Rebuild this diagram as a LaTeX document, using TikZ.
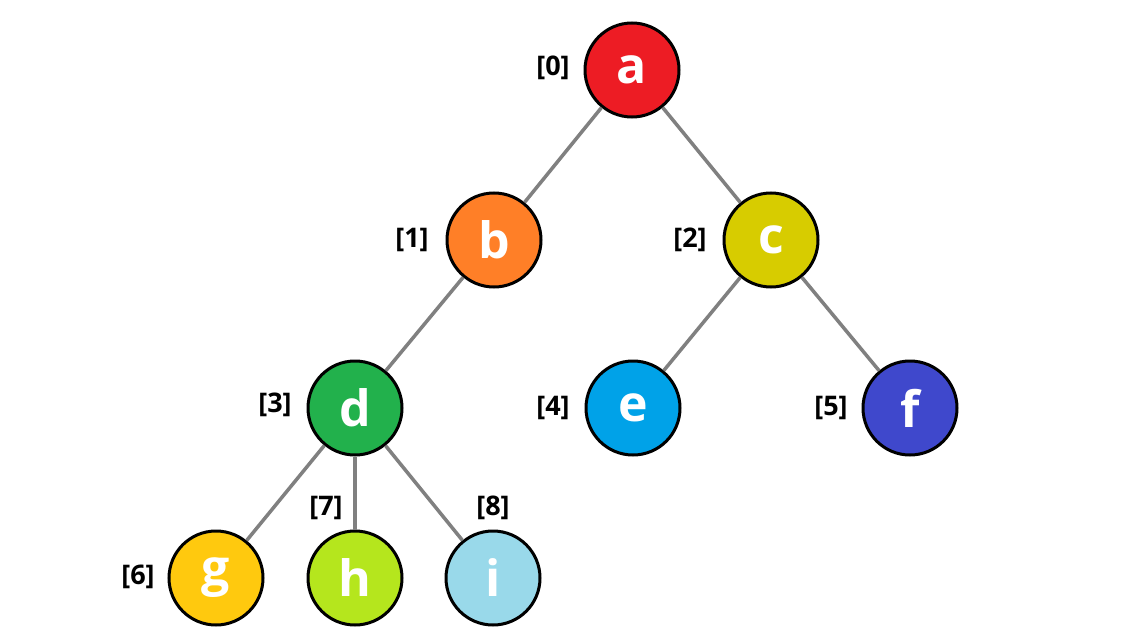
\documentclass[tikz,border=0pt]{standalone}
\usepackage{fontspec}
\setmainfont{Open Sans}
\definecolor{ca}{RGB}{237,28,36}
\definecolor{cb}{RGB}{255,127,39}
\definecolor{cc}{RGB}{215,204,0}
\definecolor{cd}{RGB}{34,177,76}
\definecolor{ce}{RGB}{0,162,232}
\definecolor{cf}{RGB}{63,72,204}
\definecolor{cg}{RGB}{255,201,14}
\definecolor{ch}{RGB}{181,230,29}
\definecolor{ci}{RGB}{153,217,234}
\definecolor{edgegray}{RGB}{128,128,128}
\tikzset{
  vert/.style={circle, draw=black, line width=3pt, minimum size=94pt, inner sep=0pt,
    text=white, font=\fontsize{50}{50}\selectfont\bfseries},
  idx/.style={font=\fontsize{27}{27}\selectfont\bfseries, text=black},
  link/.style={draw=edgegray, line width=3.5pt}
}
\begin{document}
\begin{tikzpicture}[x=1pt,y=-1pt]
\useasboundingbox (0,0) rectangle (1136,634);
\fill[white] (0,0) rectangle (1136,634);
\node[vert, fill=ca] (a) at (632,70) {a};
\node[vert, fill=cb] (b) at (494,240) {b};
\node[vert, fill=cc] (c) at (771,240) {c};
\node[vert, fill=cd] (d) at (355,408) {d};
\node[vert, fill=ce] (e) at (633,408) {e};
\node[vert, fill=cf] (f) at (910,408) {f};
\node[vert, fill=cg] (g) at (216,578) {g};
\node[vert, fill=ch] (h) at (355,578) {h};
\node[vert, fill=ci] (i) at (493,578) {i};
\draw[link] (a) -- (b);
\draw[link] (a) -- (c);
\draw[link] (b) -- (d);
\draw[link] (c) -- (e);
\draw[link] (c) -- (f);
\draw[link] (d) -- (g);
\draw[link] (d) -- (h);
\draw[link] (d) -- (i);
\node[idx] (l0) at (553,68) {[0]};
\node[idx] (l1) at (412,240) {[1]};
\node[idx] (l2) at (690,240) {[2]};
\node[idx] (l3) at (275,405) {[3]};
\node[idx] (l4) at (553,408) {[4]};
\node[idx] (l5) at (831,408) {[5]};
\node[idx] (l6) at (138,577) {[6]};
\node[idx] (l7) at (326,508) {[7]};
\node[idx] (l8) at (493,508) {[8]};
\end{tikzpicture}
\end{document}
